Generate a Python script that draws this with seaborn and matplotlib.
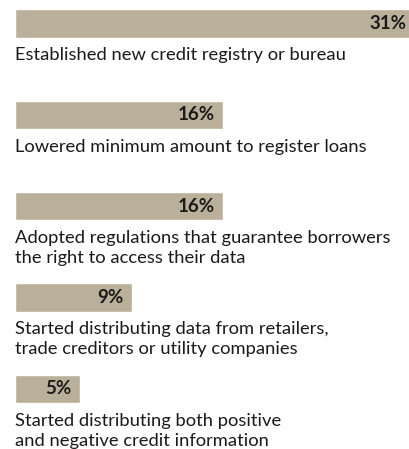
import matplotlib
matplotlib.use("Agg")
import matplotlib.pyplot as plt
import seaborn as sns
import pandas as pd

# Share of reforms by type
categories = [
    "Established new credit registry or bureau",
    "Lowered minimum amount to register loans",
    "Adopted regulations that guarantee borrowers\nthe right to access their data",
    "Started distributing data from retailers,\ntrade creditors or utility companies",
    "Started distributing both positive\nand negative credit information",
]
values = [31, 16, 16, 9, 5]
value_labels = ["31%", "16%", "16%", "9%", "5%"]

sns.set_theme(style="white")
plt.rcParams["font.family"] = ["Lato", "DejaVu Sans"]

bar_color = "#BAB09A"
text_color = "#1a1a1a"

df = pd.DataFrame({"category": categories, "value": values})

fig = plt.figure(figsize=(4.10, 4.49), dpi=100)
ax = fig.add_axes([0, 0, 1, 1])

sns.barplot(data=df, x="value", y="category", orient="h", color=bar_color,
            width=0.31, saturation=1, ax=ax)

px_per_unit_x = 13.05
x_left = -14.7 / px_per_unit_x
x_right = x_left + 410 / px_per_unit_x
ax.set_xlim(x_left, x_right)
ax.set_ylim(4 + (449 - 389) / 91.2, -23.5 / 91.2)

for i, (v, lab, cat) in enumerate(zip(values, value_labels, categories)):
    if v > x_right:
        end, pad = x_right, -2.5
    else:
        end, pad = v, -6
    ax.annotate(lab, xy=(end, i), xytext=(pad, 0), textcoords="offset points",
                ha="right", va="center", fontsize=13.5, fontweight="bold",
                color=text_color)
    ax.annotate(cat, xy=(0, i + 0.155), xytext=(0, -7), textcoords="offset points",
                ha="left", va="top", fontsize=13.2, color=text_color,
                linespacing=1.3)

ax.set_axis_off()
fig.savefig("out.png", dpi=100)
